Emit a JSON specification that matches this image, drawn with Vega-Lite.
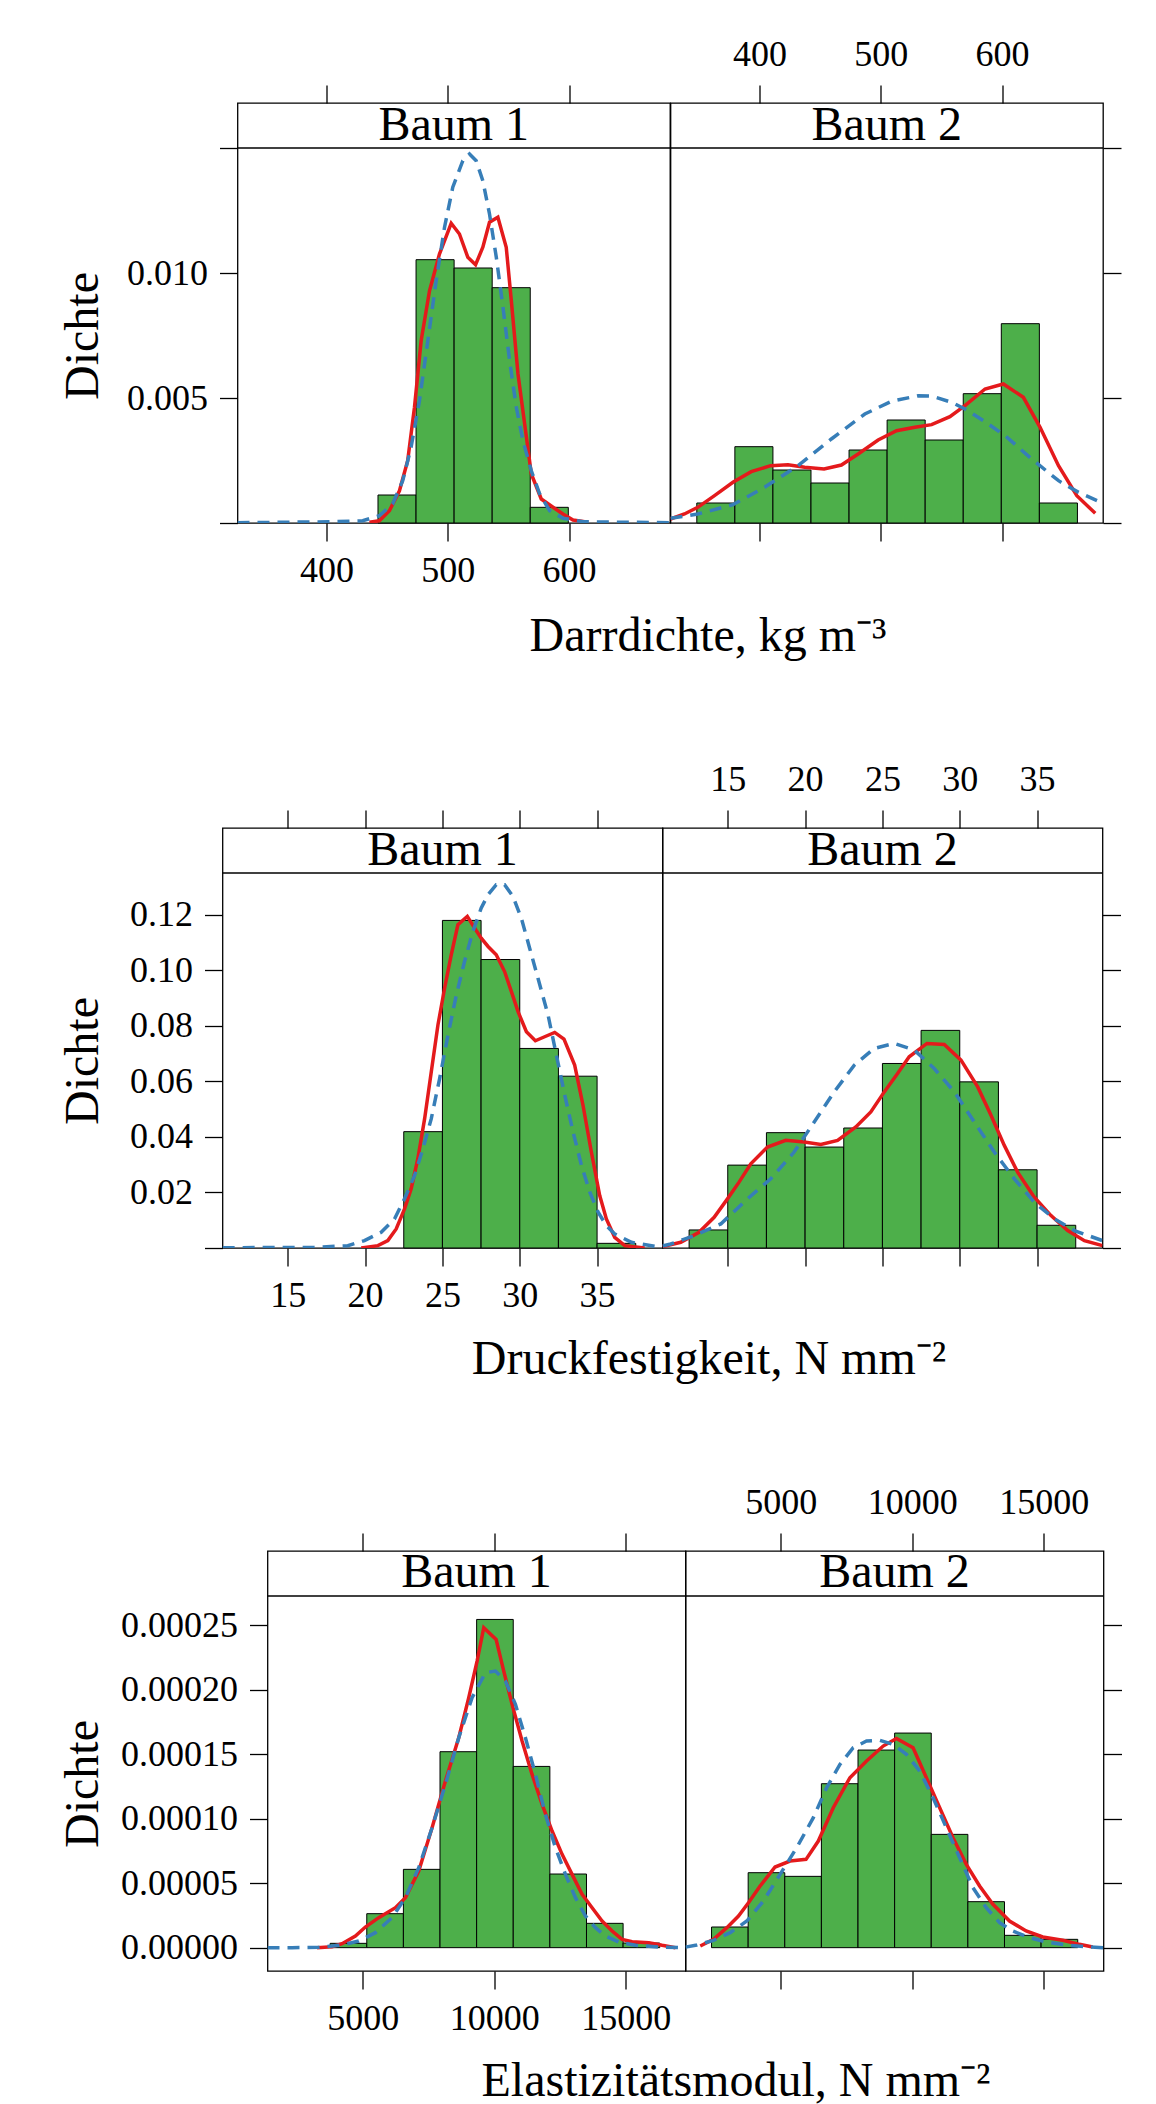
{
"$schema": "https://vega.github.io/schema/vega-lite/v6.json",
"background": "white",
"padding": {"left": 57.5, "top": 35, "right": 0, "bottom": 0},
"columns": 1,
"align": "none",
"spacing": 98,
"config": {
 "view": {"stroke": "black", "strokeWidth": 1.3},
 "axis": {"grid": false, "domain": false, "tickColor": "black", "tickSize": 18, "tickWidth": 1.3, "labelFont": "Liberation Serif", "labelFontSize": 36, "labelColor": "black", "labelPadding": 12, "labelFlush": false, "labelOverlap": false, "titleFont": "Liberation Serif", "titleFontSize": 48, "titleFontWeight": "normal", "titleColor": "black"}
},
"datasets": {
 "bars": [
  {"v": "dd", "tree": "Baum 1", "lo": 442.4, "hi": 473.8, "dens": 0.00112},
  {"v": "dd", "tree": "Baum 1", "lo": 473.8, "hi": 505.2, "dens": 0.010533},
  {"v": "dd", "tree": "Baum 1", "lo": 505.2, "hi": 536.6, "dens": 0.0102},
  {"v": "dd", "tree": "Baum 1", "lo": 536.6, "hi": 568.0, "dens": 0.009413},
  {"v": "dd", "tree": "Baum 1", "lo": 568.0, "hi": 599.4, "dens": 0.000627},
  {"v": "dd", "tree": "Baum 2", "lo": 348.2, "hi": 379.6, "dens": 0.0008},
  {"v": "dd", "tree": "Baum 2", "lo": 379.6, "hi": 411.0, "dens": 0.003053},
  {"v": "dd", "tree": "Baum 2", "lo": 411.0, "hi": 442.4, "dens": 0.00212},
  {"v": "dd", "tree": "Baum 2", "lo": 442.4, "hi": 473.8, "dens": 0.0016},
  {"v": "dd", "tree": "Baum 2", "lo": 473.8, "hi": 505.2, "dens": 0.00292},
  {"v": "dd", "tree": "Baum 2", "lo": 505.2, "hi": 536.6, "dens": 0.00412},
  {"v": "dd", "tree": "Baum 2", "lo": 536.6, "hi": 568.0, "dens": 0.00332},
  {"v": "dd", "tree": "Baum 2", "lo": 568.0, "hi": 599.4, "dens": 0.005173},
  {"v": "dd", "tree": "Baum 2", "lo": 599.4, "hi": 630.8, "dens": 0.007973},
  {"v": "dd", "tree": "Baum 2", "lo": 630.8, "hi": 662.2, "dens": 0.0008},
  {"v": "df", "tree": "Baum 1", "lo": 22.5, "hi": 25.0, "dens": 0.04188},
  {"v": "df", "tree": "Baum 1", "lo": 25.0, "hi": 27.5, "dens": 0.11793},
  {"v": "df", "tree": "Baum 1", "lo": 27.5, "hi": 30.0, "dens": 0.10385},
  {"v": "df", "tree": "Baum 1", "lo": 30.0, "hi": 32.5, "dens": 0.07184},
  {"v": "df", "tree": "Baum 1", "lo": 32.5, "hi": 35.0, "dens": 0.06185},
  {"v": "df", "tree": "Baum 1", "lo": 35.0, "hi": 37.5, "dens": 0.00168},
  {"v": "df", "tree": "Baum 2", "lo": 12.5, "hi": 15.0, "dens": 0.0065},
  {"v": "df", "tree": "Baum 2", "lo": 15.0, "hi": 17.5, "dens": 0.02984},
  {"v": "df", "tree": "Baum 2", "lo": 17.5, "hi": 20.0, "dens": 0.04152},
  {"v": "df", "tree": "Baum 2", "lo": 20.0, "hi": 22.5, "dens": 0.03634},
  {"v": "df", "tree": "Baum 2", "lo": 22.5, "hi": 25.0, "dens": 0.0432},
  {"v": "df", "tree": "Baum 2", "lo": 25.0, "hi": 27.5, "dens": 0.06643},
  {"v": "df", "tree": "Baum 2", "lo": 27.5, "hi": 30.0, "dens": 0.07834},
  {"v": "df", "tree": "Baum 2", "lo": 30.0, "hi": 32.5, "dens": 0.05981},
  {"v": "df", "tree": "Baum 2", "lo": 32.5, "hi": 35.0, "dens": 0.02816},
  {"v": "df", "tree": "Baum 2", "lo": 35.0, "hi": 37.5, "dens": 0.00818},
  {"v": "em", "tree": "Baum 1", "lo": 3762, "hi": 5154, "dens": 0.00000336},
  {"v": "em", "tree": "Baum 1", "lo": 5154, "hi": 6546, "dens": 0.00002637},
  {"v": "em", "tree": "Baum 1", "lo": 6546, "hi": 7938, "dens": 0.00006075},
  {"v": "em", "tree": "Baum 1", "lo": 7938, "hi": 9330, "dens": 0.000152},
  {"v": "em", "tree": "Baum 1", "lo": 9330, "hi": 10722, "dens": 0.0002546},
  {"v": "em", "tree": "Baum 1", "lo": 10722, "hi": 12114, "dens": 0.0001406},
  {"v": "em", "tree": "Baum 1", "lo": 12114, "hi": 13506, "dens": 0.00005713},
  {"v": "em", "tree": "Baum 1", "lo": 13506, "hi": 14898, "dens": 0.00001887},
  {"v": "em", "tree": "Baum 1", "lo": 14898, "hi": 16290, "dens": 0.0000036},
  {"v": "em", "tree": "Baum 2", "lo": 2370, "hi": 3762, "dens": 0.00001603},
  {"v": "em", "tree": "Baum 2", "lo": 3762, "hi": 5154, "dens": 0.00005816},
  {"v": "em", "tree": "Baum 2", "lo": 5154, "hi": 6546, "dens": 0.00005532},
  {"v": "em", "tree": "Baum 2", "lo": 6546, "hi": 7938, "dens": 0.00012718},
  {"v": "em", "tree": "Baum 2", "lo": 7938, "hi": 9330, "dens": 0.00015329},
  {"v": "em", "tree": "Baum 2", "lo": 9330, "hi": 10722, "dens": 0.00016647},
  {"v": "em", "tree": "Baum 2", "lo": 10722, "hi": 12114, "dens": 0.00008789},
  {"v": "em", "tree": "Baum 2", "lo": 12114, "hi": 13506, "dens": 0.00003567},
  {"v": "em", "tree": "Baum 2", "lo": 13506, "hi": 14898, "dens": 0.00000956},
  {"v": "em", "tree": "Baum 2", "lo": 14898, "hi": 16290, "dens": 0.00000646}
 ],
 "curves": [
  {"v":"dd","tree":"Baum 1","kind":"kern","x":435.3,"y":0.00003},
  {"v":"dd","tree":"Baum 1","kind":"kern","x":443.5,"y":0.00009},
  {"v":"dd","tree":"Baum 1","kind":"kern","x":451.8,"y":0.00049},
  {"v":"dd","tree":"Baum 1","kind":"kern","x":460.1,"y":0.00129},
  {"v":"dd","tree":"Baum 1","kind":"kern","x":466.9,"y":0.00249},
  {"v":"dd","tree":"Baum 1","kind":"kern","x":472.5,"y":0.00463},
  {"v":"dd","tree":"Baum 1","kind":"kern","x":478.0,"y":0.00729},
  {"v":"dd","tree":"Baum 1","kind":"kern","x":484.9,"y":0.00929},
  {"v":"dd","tree":"Baum 1","kind":"kern","x":493.1,"y":0.01076},
  {"v":"dd","tree":"Baum 1","kind":"kern","x":502.8,"y":0.01199},
  {"v":"dd","tree":"Baum 1","kind":"kern","x":509.6,"y":0.01156},
  {"v":"dd","tree":"Baum 1","kind":"kern","x":516.5,"y":0.01063},
  {"v":"dd","tree":"Baum 1","kind":"kern","x":522.9,"y":0.01033},
  {"v":"dd","tree":"Baum 1","kind":"kern","x":528.9,"y":0.01103},
  {"v":"dd","tree":"Baum 1","kind":"kern","x":534.4,"y":0.01203},
  {"v":"dd","tree":"Baum 1","kind":"kern","x":541.3,"y":0.01223},
  {"v":"dd","tree":"Baum 1","kind":"kern","x":548.2,"y":0.01103},
  {"v":"dd","tree":"Baum 1","kind":"kern","x":552.4,"y":0.00889},
  {"v":"dd","tree":"Baum 1","kind":"kern","x":557.9,"y":0.00596},
  {"v":"dd","tree":"Baum 1","kind":"kern","x":563.4,"y":0.00396},
  {"v":"dd","tree":"Baum 1","kind":"kern","x":568.9,"y":0.00196},
  {"v":"dd","tree":"Baum 1","kind":"kern","x":577.1,"y":0.00096},
  {"v":"dd","tree":"Baum 1","kind":"kern","x":586.8,"y":0.00063},
  {"v":"dd","tree":"Baum 1","kind":"kern","x":595.0,"y":0.00036},
  {"v":"dd","tree":"Baum 1","kind":"kern","x":603.3,"y":0.00012},
  {"v":"dd","tree":"Baum 1","kind":"kern","x":615.7,"y":0.00003},
  {"v":"dd","tree":"Baum 1","kind":"norm","x":326.5,"y":0.00001},
  {"v":"dd","tree":"Baum 1","kind":"norm","x":402.2,"y":0.00005},
  {"v":"dd","tree":"Baum 1","kind":"norm","x":429.8,"y":0.00009},
  {"v":"dd","tree":"Baum 1","kind":"norm","x":443.5,"y":0.00029},
  {"v":"dd","tree":"Baum 1","kind":"norm","x":454.5,"y":0.00076},
  {"v":"dd","tree":"Baum 1","kind":"norm","x":462.8,"y":0.00169},
  {"v":"dd","tree":"Baum 1","kind":"norm","x":469.7,"y":0.00303},
  {"v":"dd","tree":"Baum 1","kind":"norm","x":476.6,"y":0.00489},
  {"v":"dd","tree":"Baum 1","kind":"norm","x":483.5,"y":0.00729},
  {"v":"dd","tree":"Baum 1","kind":"norm","x":490.4,"y":0.00969},
  {"v":"dd","tree":"Baum 1","kind":"norm","x":497.3,"y":0.01183},
  {"v":"dd","tree":"Baum 1","kind":"norm","x":504.1,"y":0.01343},
  {"v":"dd","tree":"Baum 1","kind":"norm","x":512.4,"y":0.01449},
  {"v":"dd","tree":"Baum 1","kind":"norm","x":517.9,"y":0.01476},
  {"v":"dd","tree":"Baum 1","kind":"norm","x":523.4,"y":0.01449},
  {"v":"dd","tree":"Baum 1","kind":"norm","x":528.9,"y":0.01369},
  {"v":"dd","tree":"Baum 1","kind":"norm","x":534.4,"y":0.01236},
  {"v":"dd","tree":"Baum 1","kind":"norm","x":540.0,"y":0.01063},
  {"v":"dd","tree":"Baum 1","kind":"norm","x":545.5,"y":0.00863},
  {"v":"dd","tree":"Baum 1","kind":"norm","x":551.0,"y":0.00649},
  {"v":"dd","tree":"Baum 1","kind":"norm","x":556.5,"y":0.00463},
  {"v":"dd","tree":"Baum 1","kind":"norm","x":562.0,"y":0.00329},
  {"v":"dd","tree":"Baum 1","kind":"norm","x":568.9,"y":0.00209},
  {"v":"dd","tree":"Baum 1","kind":"norm","x":575.8,"y":0.00116},
  {"v":"dd","tree":"Baum 1","kind":"norm","x":584.0,"y":0.00049},
  {"v":"dd","tree":"Baum 1","kind":"norm","x":595.0,"y":0.00019},
  {"v":"dd","tree":"Baum 1","kind":"norm","x":611.6,"y":0.00005},
  {"v":"dd","tree":"Baum 1","kind":"norm","x":683.3,"y":0.00001},
  {"v":"dd","tree":"Baum 2","kind":"kern","x":326.5,"y":0.00016},
  {"v":"dd","tree":"Baum 2","kind":"kern","x":338.0,"y":0.00036},
  {"v":"dd","tree":"Baum 2","kind":"kern","x":349.0,"y":0.000627},
  {"v":"dd","tree":"Baum 2","kind":"kern","x":362.8,"y":0.001093},
  {"v":"dd","tree":"Baum 2","kind":"kern","x":378.0,"y":0.001627},
  {"v":"dd","tree":"Baum 2","kind":"kern","x":393.1,"y":0.002053},
  {"v":"dd","tree":"Baum 2","kind":"kern","x":409.1,"y":0.002293},
  {"v":"dd","tree":"Baum 2","kind":"kern","x":423.4,"y":0.002333},
  {"v":"dd","tree":"Baum 2","kind":"kern","x":437.2,"y":0.002227},
  {"v":"dd","tree":"Baum 2","kind":"kern","x":453.2,"y":0.00216},
  {"v":"dd","tree":"Baum 2","kind":"kern","x":467.5,"y":0.00232},
  {"v":"dd","tree":"Baum 2","kind":"kern","x":481.3,"y":0.00276},
  {"v":"dd","tree":"Baum 2","kind":"kern","x":497.8,"y":0.00332},
  {"v":"dd","tree":"Baum 2","kind":"kern","x":513.0,"y":0.003693},
  {"v":"dd","tree":"Baum 2","kind":"kern","x":528.1,"y":0.003827},
  {"v":"dd","tree":"Baum 2","kind":"kern","x":541.9,"y":0.003933},
  {"v":"dd","tree":"Baum 2","kind":"kern","x":557.0,"y":0.004253},
  {"v":"dd","tree":"Baum 2","kind":"kern","x":569.4,"y":0.004693},
  {"v":"dd","tree":"Baum 2","kind":"kern","x":586.0,"y":0.00536},
  {"v":"dd","tree":"Baum 2","kind":"kern","x":601.1,"y":0.00556},
  {"v":"dd","tree":"Baum 2","kind":"kern","x":617.6,"y":0.005027},
  {"v":"dd","tree":"Baum 2","kind":"kern","x":631.4,"y":0.003827},
  {"v":"dd","tree":"Baum 2","kind":"kern","x":646.6,"y":0.002293},
  {"v":"dd","tree":"Baum 2","kind":"kern","x":661.7,"y":0.001093},
  {"v":"dd","tree":"Baum 2","kind":"kern","x":676.9,"y":0.000387},
  {"v":"dd","tree":"Baum 2","kind":"norm","x":326.5,"y":0.000187},
  {"v":"dd","tree":"Baum 2","kind":"norm","x":349.0,"y":0.00036},
  {"v":"dd","tree":"Baum 2","kind":"norm","x":378.0,"y":0.000733},
  {"v":"dd","tree":"Baum 2","kind":"norm","x":404.1,"y":0.001427},
  {"v":"dd","tree":"Baum 2","kind":"norm","x":431.7,"y":0.002293},
  {"v":"dd","tree":"Baum 2","kind":"norm","x":459.2,"y":0.00336},
  {"v":"dd","tree":"Baum 2","kind":"norm","x":486.8,"y":0.00436},
  {"v":"dd","tree":"Baum 2","kind":"norm","x":508.8,"y":0.004867},
  {"v":"dd","tree":"Baum 2","kind":"norm","x":530.9,"y":0.005093},
  {"v":"dd","tree":"Baum 2","kind":"norm","x":541.9,"y":0.00508},
  {"v":"dd","tree":"Baum 2","kind":"norm","x":558.4,"y":0.004827},
  {"v":"dd","tree":"Baum 2","kind":"norm","x":569.4,"y":0.00456},
  {"v":"dd","tree":"Baum 2","kind":"norm","x":586.0,"y":0.004053},
  {"v":"dd","tree":"Baum 2","kind":"norm","x":602.5,"y":0.003493},
  {"v":"dd","tree":"Baum 2","kind":"norm","x":624.5,"y":0.00256},
  {"v":"dd","tree":"Baum 2","kind":"norm","x":646.6,"y":0.001693},
  {"v":"dd","tree":"Baum 2","kind":"norm","x":663.1,"y":0.001227},
  {"v":"dd","tree":"Baum 2","kind":"norm","x":679.6,"y":0.000867},
  {"v":"dd","tree":"Baum 2","kind":"norm","x":683.3,"y":0.0008},
  {"v":"df","tree":"Baum 1","kind":"kern","x":19.75,"y":0},
  {"v":"df","tree":"Baum 1","kind":"kern","x":20.83,"y":0.00084},
  {"v":"df","tree":"Baum 1","kind":"kern","x":21.47,"y":0.00265},
  {"v":"df","tree":"Baum 1","kind":"kern","x":22.01,"y":0.00686},
  {"v":"df","tree":"Baum 1","kind":"kern","x":22.55,"y":0.01408},
  {"v":"df","tree":"Baum 1","kind":"kern","x":22.98,"y":0.0213},
  {"v":"df","tree":"Baum 1","kind":"kern","x":23.41,"y":0.03213},
  {"v":"df","tree":"Baum 1","kind":"kern","x":23.85,"y":0.04657},
  {"v":"df","tree":"Baum 1","kind":"kern","x":24.28,"y":0.06342},
  {"v":"df","tree":"Baum 1","kind":"kern","x":24.71,"y":0.08027},
  {"v":"df","tree":"Baum 1","kind":"kern","x":25.14,"y":0.0935},
  {"v":"df","tree":"Baum 1","kind":"kern","x":25.57,"y":0.10554},
  {"v":"df","tree":"Baum 1","kind":"kern","x":26.0,"y":0.11637},
  {"v":"df","tree":"Baum 1","kind":"kern","x":26.61,"y":0.11938},
  {"v":"df","tree":"Baum 1","kind":"kern","x":27.08,"y":0.11517},
  {"v":"df","tree":"Baum 1","kind":"kern","x":27.51,"y":0.11156},
  {"v":"df","tree":"Baum 1","kind":"kern","x":27.95,"y":0.10855},
  {"v":"df","tree":"Baum 1","kind":"kern","x":28.48,"y":0.10554},
  {"v":"df","tree":"Baum 1","kind":"kern","x":29.02,"y":0.09952},
  {"v":"df","tree":"Baum 1","kind":"kern","x":29.46,"y":0.0923},
  {"v":"df","tree":"Baum 1","kind":"kern","x":29.89,"y":0.08508},
  {"v":"df","tree":"Baum 1","kind":"kern","x":30.43,"y":0.07786},
  {"v":"df","tree":"Baum 1","kind":"kern","x":31.01,"y":0.07461},
  {"v":"df","tree":"Baum 1","kind":"kern","x":31.61,"y":0.07605},
  {"v":"df","tree":"Baum 1","kind":"kern","x":32.26,"y":0.07762},
  {"v":"df","tree":"Baum 1","kind":"kern","x":32.86,"y":0.07521},
  {"v":"df","tree":"Baum 1","kind":"kern","x":33.55,"y":0.06583},
  {"v":"df","tree":"Baum 1","kind":"kern","x":34.09,"y":0.05139},
  {"v":"df","tree":"Baum 1","kind":"kern","x":34.63,"y":0.03454},
  {"v":"df","tree":"Baum 1","kind":"kern","x":35.17,"y":0.01889},
  {"v":"df","tree":"Baum 1","kind":"kern","x":35.6,"y":0.01047},
  {"v":"df","tree":"Baum 1","kind":"kern","x":36.14,"y":0.00385},
  {"v":"df","tree":"Baum 1","kind":"kern","x":36.79,"y":0.00084},
  {"v":"df","tree":"Baum 1","kind":"kern","x":38.08,"y":0},
  {"v":"df","tree":"Baum 1","kind":"norm","x":10.79,"y":0.0001},
  {"v":"df","tree":"Baum 1","kind":"norm","x":16.73,"y":0.00024},
  {"v":"df","tree":"Baum 1","kind":"norm","x":18.88,"y":0.00084},
  {"v":"df","tree":"Baum 1","kind":"norm","x":19.96,"y":0.00265},
  {"v":"df","tree":"Baum 1","kind":"norm","x":21.04,"y":0.00566},
  {"v":"df","tree":"Baum 1","kind":"norm","x":21.9,"y":0.01047},
  {"v":"df","tree":"Baum 1","kind":"norm","x":22.55,"y":0.01769},
  {"v":"df","tree":"Baum 1","kind":"norm","x":23.2,"y":0.02611},
  {"v":"df","tree":"Baum 1","kind":"norm","x":23.74,"y":0.03574},
  {"v":"df","tree":"Baum 1","kind":"norm","x":24.28,"y":0.04657},
  {"v":"df","tree":"Baum 1","kind":"norm","x":24.82,"y":0.06101},
  {"v":"df","tree":"Baum 1","kind":"norm","x":25.36,"y":0.07666},
  {"v":"df","tree":"Baum 1","kind":"norm","x":25.9,"y":0.0911},
  {"v":"df","tree":"Baum 1","kind":"norm","x":26.43,"y":0.10313},
  {"v":"df","tree":"Baum 1","kind":"norm","x":26.97,"y":0.114},
  {"v":"df","tree":"Baum 1","kind":"norm","x":27.51,"y":0.12239},
  {"v":"df","tree":"Baum 1","kind":"norm","x":27.95,"y":0.1272},
  {"v":"df","tree":"Baum 1","kind":"norm","x":28.48,"y":0.13081},
  {"v":"df","tree":"Baum 1","kind":"norm","x":29.02,"y":0.13081},
  {"v":"df","tree":"Baum 1","kind":"norm","x":29.56,"y":0.1266},
  {"v":"df","tree":"Baum 1","kind":"norm","x":30.1,"y":0.11878},
  {"v":"df","tree":"Baum 1","kind":"norm","x":30.64,"y":0.10794},
  {"v":"df","tree":"Baum 1","kind":"norm","x":31.18,"y":0.09711},
  {"v":"df","tree":"Baum 1","kind":"norm","x":31.83,"y":0.08388},
  {"v":"df","tree":"Baum 1","kind":"norm","x":32.37,"y":0.06944},
  {"v":"df","tree":"Baum 1","kind":"norm","x":32.91,"y":0.055},
  {"v":"df","tree":"Baum 1","kind":"norm","x":33.45,"y":0.04176},
  {"v":"df","tree":"Baum 1","kind":"norm","x":33.99,"y":0.02972},
  {"v":"df","tree":"Baum 1","kind":"norm","x":34.53,"y":0.0201},
  {"v":"df","tree":"Baum 1","kind":"norm","x":35.07,"y":0.01288},
  {"v":"df","tree":"Baum 1","kind":"norm","x":35.6,"y":0.00806},
  {"v":"df","tree":"Baum 1","kind":"norm","x":36.14,"y":0.00505},
  {"v":"df","tree":"Baum 1","kind":"norm","x":37.22,"y":0.00205},
  {"v":"df","tree":"Baum 1","kind":"norm","x":39.16,"y":0.00024},
  {"v":"df","tree":"Baum 2","kind":"kern","x":10.78,"y":0.00048},
  {"v":"df","tree":"Baum 2","kind":"kern","x":11.96,"y":0.00205},
  {"v":"df","tree":"Baum 2","kind":"kern","x":13.14,"y":0.00566},
  {"v":"df","tree":"Baum 2","kind":"kern","x":14.12,"y":0.01107},
  {"v":"df","tree":"Baum 2","kind":"kern","x":14.98,"y":0.01769},
  {"v":"df","tree":"Baum 2","kind":"kern","x":15.73,"y":0.02371},
  {"v":"df","tree":"Baum 2","kind":"kern","x":16.49,"y":0.03033},
  {"v":"df","tree":"Baum 2","kind":"kern","x":17.57,"y":0.03634},
  {"v":"df","tree":"Baum 2","kind":"kern","x":18.75,"y":0.03875},
  {"v":"df","tree":"Baum 2","kind":"kern","x":19.94,"y":0.03815},
  {"v":"df","tree":"Baum 2","kind":"kern","x":21.02,"y":0.03731},
  {"v":"df","tree":"Baum 2","kind":"kern","x":22.1,"y":0.03875},
  {"v":"df","tree":"Baum 2","kind":"kern","x":23.28,"y":0.04356},
  {"v":"df","tree":"Baum 2","kind":"kern","x":24.25,"y":0.04898},
  {"v":"df","tree":"Baum 2","kind":"kern","x":25.12,"y":0.0562},
  {"v":"df","tree":"Baum 2","kind":"kern","x":25.98,"y":0.06282},
  {"v":"df","tree":"Baum 2","kind":"kern","x":26.73,"y":0.06883},
  {"v":"df","tree":"Baum 2","kind":"kern","x":27.88,"y":0.07365},
  {"v":"df","tree":"Baum 2","kind":"kern","x":29.0,"y":0.07329},
  {"v":"df","tree":"Baum 2","kind":"kern","x":30.08,"y":0.06763},
  {"v":"df","tree":"Baum 2","kind":"kern","x":31.16,"y":0.058},
  {"v":"df","tree":"Baum 2","kind":"kern","x":32.02,"y":0.04777},
  {"v":"df","tree":"Baum 2","kind":"kern","x":32.88,"y":0.03694},
  {"v":"df","tree":"Baum 2","kind":"kern","x":33.74,"y":0.02732},
  {"v":"df","tree":"Baum 2","kind":"kern","x":34.82,"y":0.01829},
  {"v":"df","tree":"Baum 2","kind":"kern","x":35.9,"y":0.01167},
  {"v":"df","tree":"Baum 2","kind":"kern","x":36.98,"y":0.00626},
  {"v":"df","tree":"Baum 2","kind":"kern","x":38.06,"y":0.00265},
  {"v":"df","tree":"Baum 2","kind":"kern","x":39.23,"y":0.00084},
  {"v":"df","tree":"Baum 2","kind":"norm","x":10.78,"y":0.00072},
  {"v":"df","tree":"Baum 2","kind":"norm","x":11.31,"y":0.00144},
  {"v":"df","tree":"Baum 2","kind":"norm","x":12.82,"y":0.00445},
  {"v":"df","tree":"Baum 2","kind":"norm","x":14.55,"y":0.00866},
  {"v":"df","tree":"Baum 2","kind":"norm","x":16.27,"y":0.01769},
  {"v":"df","tree":"Baum 2","kind":"norm","x":17.78,"y":0.02491},
  {"v":"df","tree":"Baum 2","kind":"norm","x":19.29,"y":0.03454},
  {"v":"df","tree":"Baum 2","kind":"norm","x":20.59,"y":0.04537},
  {"v":"df","tree":"Baum 2","kind":"norm","x":21.88,"y":0.0562},
  {"v":"df","tree":"Baum 2","kind":"norm","x":23.18,"y":0.06583},
  {"v":"df","tree":"Baum 2","kind":"norm","x":24.47,"y":0.07184},
  {"v":"df","tree":"Baum 2","kind":"norm","x":25.76,"y":0.07365},
  {"v":"df","tree":"Baum 2","kind":"norm","x":27.06,"y":0.07124},
  {"v":"df","tree":"Baum 2","kind":"norm","x":28.35,"y":0.06462},
  {"v":"df","tree":"Baum 2","kind":"norm","x":29.65,"y":0.0562},
  {"v":"df","tree":"Baum 2","kind":"norm","x":30.94,"y":0.04537},
  {"v":"df","tree":"Baum 2","kind":"norm","x":32.23,"y":0.03454},
  {"v":"df","tree":"Baum 2","kind":"norm","x":33.53,"y":0.02491},
  {"v":"df","tree":"Baum 2","kind":"norm","x":34.82,"y":0.01649},
  {"v":"df","tree":"Baum 2","kind":"norm","x":36.12,"y":0.01047},
  {"v":"df","tree":"Baum 2","kind":"norm","x":37.41,"y":0.00626},
  {"v":"df","tree":"Baum 2","kind":"norm","x":39.23,"y":0.00265},
  {"v":"em","tree":"Baum 1","kind":"kern","x":3264,"y":0},
  {"v":"em","tree":"Baum 1","kind":"kern","x":3834,"y":0.00000078},
  {"v":"em","tree":"Baum 1","kind":"kern","x":4214,"y":0.0000031},
  {"v":"em","tree":"Baum 1","kind":"kern","x":4721,"y":0.00000905},
  {"v":"em","tree":"Baum 1","kind":"kern","x":5101,"y":0.00001603},
  {"v":"em","tree":"Baum 1","kind":"kern","x":5608,"y":0.00002327},
  {"v":"em","tree":"Baum 1","kind":"kern","x":6242,"y":0.00003102},
  {"v":"em","tree":"Baum 1","kind":"kern","x":6622,"y":0.00003878},
  {"v":"em","tree":"Baum 1","kind":"kern","x":7129,"y":0.00005946},
  {"v":"em","tree":"Baum 1","kind":"kern","x":7636,"y":0.00009306},
  {"v":"em","tree":"Baum 1","kind":"kern","x":8143,"y":0.00012925},
  {"v":"em","tree":"Baum 1","kind":"kern","x":8650,"y":0.00016286},
  {"v":"em","tree":"Baum 1","kind":"kern","x":9030,"y":0.00019388},
  {"v":"em","tree":"Baum 1","kind":"kern","x":9347,"y":0.00022231},
  {"v":"em","tree":"Baum 1","kind":"kern","x":9601,"y":0.00024816},
  {"v":"em","tree":"Baum 1","kind":"kern","x":10070,"y":0.00023911},
  {"v":"em","tree":"Baum 1","kind":"kern","x":10361,"y":0.00021456},
  {"v":"em","tree":"Baum 1","kind":"kern","x":10678,"y":0.00018871},
  {"v":"em","tree":"Baum 1","kind":"kern","x":11058,"y":0.00016027},
  {"v":"em","tree":"Baum 1","kind":"kern","x":11438,"y":0.00013442},
  {"v":"em","tree":"Baum 1","kind":"kern","x":11819,"y":0.00011116},
  {"v":"em","tree":"Baum 1","kind":"kern","x":12199,"y":0.00009048},
  {"v":"em","tree":"Baum 1","kind":"kern","x":12579,"y":0.00007238},
  {"v":"em","tree":"Baum 1","kind":"kern","x":12959,"y":0.00005687},
  {"v":"em","tree":"Baum 1","kind":"kern","x":13339,"y":0.00004136},
  {"v":"em","tree":"Baum 1","kind":"kern","x":13720,"y":0.00003102},
  {"v":"em","tree":"Baum 1","kind":"kern","x":14100,"y":0.00002068},
  {"v":"em","tree":"Baum 1","kind":"kern","x":14480,"y":0.00001293},
  {"v":"em","tree":"Baum 1","kind":"kern","x":14860,"y":0.00000646},
  {"v":"em","tree":"Baum 1","kind":"kern","x":15241,"y":0.00000465},
  {"v":"em","tree":"Baum 1","kind":"kern","x":15874,"y":0.00000388},
  {"v":"em","tree":"Baum 1","kind":"kern","x":16381,"y":0.00000181},
  {"v":"em","tree":"Baum 1","kind":"kern","x":16888,"y":0},
  {"v":"em","tree":"Baum 1","kind":"norm","x":1380,"y":0},
  {"v":"em","tree":"Baum 1","kind":"norm","x":2313,"y":0},
  {"v":"em","tree":"Baum 1","kind":"norm","x":3327,"y":0.00000026},
  {"v":"em","tree":"Baum 1","kind":"norm","x":4214,"y":0.00000207},
  {"v":"em","tree":"Baum 1","kind":"norm","x":4848,"y":0.00000517},
  {"v":"em","tree":"Baum 1","kind":"norm","x":5482,"y":0.00001163},
  {"v":"em","tree":"Baum 1","kind":"norm","x":6115,"y":0.00002327},
  {"v":"em","tree":"Baum 1","kind":"norm","x":6622,"y":0.00003878},
  {"v":"em","tree":"Baum 1","kind":"norm","x":7129,"y":0.00006204},
  {"v":"em","tree":"Baum 1","kind":"norm","x":7636,"y":0.00009306},
  {"v":"em","tree":"Baum 1","kind":"norm","x":8143,"y":0.00012667},
  {"v":"em","tree":"Baum 1","kind":"norm","x":8650,"y":0.00016286},
  {"v":"em","tree":"Baum 1","kind":"norm","x":9157,"y":0.00019388},
  {"v":"em","tree":"Baum 1","kind":"norm","x":9664,"y":0.00021326},
  {"v":"em","tree":"Baum 1","kind":"norm","x":10044,"y":0.00021456},
  {"v":"em","tree":"Baum 1","kind":"norm","x":10424,"y":0.0002068},
  {"v":"em","tree":"Baum 1","kind":"norm","x":10805,"y":0.00018871},
  {"v":"em","tree":"Baum 1","kind":"norm","x":11185,"y":0.00016286},
  {"v":"em","tree":"Baum 1","kind":"norm","x":11565,"y":0.00013442},
  {"v":"em","tree":"Baum 1","kind":"norm","x":11945,"y":0.0001034},
  {"v":"em","tree":"Baum 1","kind":"norm","x":12326,"y":0.00007755},
  {"v":"em","tree":"Baum 1","kind":"norm","x":12706,"y":0.00005687},
  {"v":"em","tree":"Baum 1","kind":"norm","x":13086,"y":0.00003878},
  {"v":"em","tree":"Baum 1","kind":"norm","x":13466,"y":0.00002456},
  {"v":"em","tree":"Baum 1","kind":"norm","x":13847,"y":0.00001551},
  {"v":"em","tree":"Baum 1","kind":"norm","x":14227,"y":0.00000905},
  {"v":"em","tree":"Baum 1","kind":"norm","x":14734,"y":0.00000439},
  {"v":"em","tree":"Baum 1","kind":"norm","x":15368,"y":0.00000181},
  {"v":"em","tree":"Baum 1","kind":"norm","x":16255,"y":0.00000052},
  {"v":"em","tree":"Baum 1","kind":"norm","x":17270,"y":0},
  {"v":"em","tree":"Baum 2","kind":"kern","x":1941,"y":0.00000129},
  {"v":"em","tree":"Baum 2","kind":"kern","x":2446,"y":0.00000646},
  {"v":"em","tree":"Baum 2","kind":"kern","x":2952,"y":0.00001551},
  {"v":"em","tree":"Baum 2","kind":"kern","x":3394,"y":0.00002456},
  {"v":"em","tree":"Baum 2","kind":"kern","x":3774,"y":0.0000349},
  {"v":"em","tree":"Baum 2","kind":"kern","x":4216,"y":0.00004782},
  {"v":"em","tree":"Baum 2","kind":"kern","x":4785,"y":0.00006256},
  {"v":"em","tree":"Baum 2","kind":"kern","x":5354,"y":0.00006721},
  {"v":"em","tree":"Baum 2","kind":"kern","x":5961,"y":0.0000685},
  {"v":"em","tree":"Baum 2","kind":"kern","x":6429,"y":0.00008272},
  {"v":"em","tree":"Baum 2","kind":"kern","x":6997,"y":0.00010857},
  {"v":"em","tree":"Baum 2","kind":"kern","x":7630,"y":0.00013184},
  {"v":"em","tree":"Baum 2","kind":"kern","x":8262,"y":0.00014476},
  {"v":"em","tree":"Baum 2","kind":"kern","x":8894,"y":0.00015639},
  {"v":"em","tree":"Baum 2","kind":"kern","x":9399,"y":0.00016234},
  {"v":"em","tree":"Baum 2","kind":"kern","x":10031,"y":0.0001551},
  {"v":"em","tree":"Baum 2","kind":"kern","x":10537,"y":0.00013184},
  {"v":"em","tree":"Baum 2","kind":"kern","x":11043,"y":0.00010857},
  {"v":"em","tree":"Baum 2","kind":"kern","x":11549,"y":0.00008531},
  {"v":"em","tree":"Baum 2","kind":"kern","x":12054,"y":0.00006463},
  {"v":"em","tree":"Baum 2","kind":"kern","x":12560,"y":0.00004782},
  {"v":"em","tree":"Baum 2","kind":"kern","x":13066,"y":0.00003361},
  {"v":"em","tree":"Baum 2","kind":"kern","x":13698,"y":0.00002068},
  {"v":"em","tree":"Baum 2","kind":"kern","x":14330,"y":0.00001293},
  {"v":"em","tree":"Baum 2","kind":"kern","x":14962,"y":0.00000827},
  {"v":"em","tree":"Baum 2","kind":"kern","x":15721,"y":0.00000569},
  {"v":"em","tree":"Baum 2","kind":"kern","x":16353,"y":0.00000259},
  {"v":"em","tree":"Baum 2","kind":"kern","x":16858,"y":0.00000052},
  {"v":"em","tree":"Baum 2","kind":"norm","x":1380,"y":0.0000004},
  {"v":"em","tree":"Baum 2","kind":"norm","x":1814,"y":0.00000207},
  {"v":"em","tree":"Baum 2","kind":"norm","x":2446,"y":0.00000569},
  {"v":"em","tree":"Baum 2","kind":"norm","x":3078,"y":0.00001163},
  {"v":"em","tree":"Baum 2","kind":"norm","x":3711,"y":0.00002068},
  {"v":"em","tree":"Baum 2","kind":"norm","x":4343,"y":0.00003619},
  {"v":"em","tree":"Baum 2","kind":"norm","x":4975,"y":0.00005687},
  {"v":"em","tree":"Baum 2","kind":"norm","x":5607,"y":0.00007755},
  {"v":"em","tree":"Baum 2","kind":"norm","x":6239,"y":0.00010082},
  {"v":"em","tree":"Baum 2","kind":"norm","x":6745,"y":0.00012408},
  {"v":"em","tree":"Baum 2","kind":"norm","x":7250,"y":0.00014218},
  {"v":"em","tree":"Baum 2","kind":"norm","x":7756,"y":0.0001551},
  {"v":"em","tree":"Baum 2","kind":"norm","x":8262,"y":0.00016027},
  {"v":"em","tree":"Baum 2","kind":"norm","x":8767,"y":0.00016079},
  {"v":"em","tree":"Baum 2","kind":"norm","x":9273,"y":0.00015769},
  {"v":"em","tree":"Baum 2","kind":"norm","x":9779,"y":0.00014993},
  {"v":"em","tree":"Baum 2","kind":"norm","x":10284,"y":0.00013701},
  {"v":"em","tree":"Baum 2","kind":"norm","x":10790,"y":0.00011633},
  {"v":"em","tree":"Baum 2","kind":"norm","x":11296,"y":0.00009306},
  {"v":"em","tree":"Baum 2","kind":"norm","x":11802,"y":0.0000698},
  {"v":"em","tree":"Baum 2","kind":"norm","x":12307,"y":0.00004653},
  {"v":"em","tree":"Baum 2","kind":"norm","x":12813,"y":0.00003102},
  {"v":"em","tree":"Baum 2","kind":"norm","x":13319,"y":0.00001939},
  {"v":"em","tree":"Baum 2","kind":"norm","x":13824,"y":0.00001293},
  {"v":"em","tree":"Baum 2","kind":"norm","x":14456,"y":0.00000776},
  {"v":"em","tree":"Baum 2","kind":"norm","x":15088,"y":0.00000439},
  {"v":"em","tree":"Baum 2","kind":"norm","x":15847,"y":0.00000207},
  {"v":"em","tree":"Baum 2","kind":"norm","x":16605,"y":0.00000078},
  {"v":"em","tree":"Baum 2","kind":"norm","x":17270,"y":0}
 ]
},
"concat": [
 {"hconcat": [
  {"width": 25, "height": 420, "view": {"stroke": null}, "data": {"values": [{}]}, "mark": {"type": "text", "text": ""}, "encoding": {}},
  {"width": 432.5, "height": 420,
   "layer": [
    {"data": {"name": "bars"}, "transform": [{"filter": "datum.v == 'dd' && datum.tree == 'Baum 1'"}],
     "mark": {"type": "rect", "fill": "#4DAF4A", "stroke": "black", "strokeWidth": 1},
     "encoding": {
      "x": {"field": "lo", "type": "quantitative", "scale": {"domain": [326.5, 683.3], "nice": false, "zero": false},
            "axis": {"orient": "bottom", "values": [400, 500, 600], "format": "d", "title": "Darrdichte, kg m⁻³", "titleX": 470, "titleY": 127.7, "titleBaseline": "alphabetic", "titleAlign": "center"}},
      "x2": {"field": "hi"},
      "y": {"field": "dens", "type": "quantitative", "scale": {"domain": [0, 0.0168], "nice": false, "zero": false},
            "axis": {"orient": "left", "values": [0, 0.005, 0.01, 0.015], "labelExpr": "datum.value < 0.001 || datum.value > 0.0149 ? '' : format(datum.value, '.3f')", "title": "Dichte", "titleX": -140.4, "titleY": 232.5, "titleBaseline": "alphabetic", "titleAngle": 270, "titleAlign": "center"}},
      "y2": {"datum": 0}
     }},
    {"data": {"name": "curves"}, "transform": [{"filter": "datum.v == 'dd' && datum.tree == 'Baum 1' && datum.kind == 'kern'"}],
     "mark": {"type": "line", "color": "#E41A1C", "strokeWidth": 3.5, "clip": true},
     "encoding": {"x": {"field": "x", "type": "quantitative", "axis": {"orient": "top", "values": [400, 500, 600], "labels": false, "title": null}},
                  "y": {"field": "y", "type": "quantitative", "axis": null}}},
    {"data": {"name": "curves"}, "transform": [{"filter": "datum.v == 'dd' && datum.tree == 'Baum 1' && datum.kind == 'norm'"}],
     "mark": {"type": "line", "color": "#377EB8", "strokeWidth": 3.5, "strokeDash": [12, 8], "clip": true},
     "encoding": {"x": {"field": "x", "type": "quantitative", "axis": null},
                  "y": {"field": "y", "type": "quantitative", "axis": null}}},
    {"data": {"values": [{}]}, "mark": {"type": "rule", "color": "black", "strokeWidth": 1.3},
     "encoding": {"y": {"datum": 0.015, "axis": null}}},
    {"data": {"values": [{}]}, "mark": {"type": "text", "font": "Liberation Serif", "fontSize": 48, "baseline": "middle", "color": "black"},
     "encoding": {"y": {"datum": 0.0159, "axis": null}, "text": {"value": "Baum 1"}}}
   ],
   "resolve": {"axis": {"x": "independent", "y": "independent"}}
  },
  {"width": 432.5, "height": 420,
   "layer": [
    {"data": {"name": "bars"}, "transform": [{"filter": "datum.v == 'dd' && datum.tree == 'Baum 2'"}],
     "mark": {"type": "rect", "fill": "#4DAF4A", "stroke": "black", "strokeWidth": 1},
     "encoding": {
      "x": {"field": "lo", "type": "quantitative", "scale": {"domain": [326.5, 683.3], "nice": false, "zero": false},
            "axis": {"orient": "bottom", "values": [400, 500, 600], "labels": false, "title": null}},
      "x2": {"field": "hi"},
      "y": {"field": "dens", "type": "quantitative", "scale": {"domain": [0, 0.0168], "nice": false, "zero": false},
            "axis": {"orient": "right", "values": [0, 0.005, 0.01, 0.015], "labels": false, "title": null}},
      "y2": {"datum": 0}
     }},
    {"data": {"name": "curves"}, "transform": [{"filter": "datum.v == 'dd' && datum.tree == 'Baum 2' && datum.kind == 'kern'"}],
     "mark": {"type": "line", "color": "#E41A1C", "strokeWidth": 3.5, "clip": true},
     "encoding": {"x": {"field": "x", "type": "quantitative", "axis": {"orient": "top", "values": [400, 500, 600], "format": "d", "title": null}},
                  "y": {"field": "y", "type": "quantitative", "axis": null}}},
    {"data": {"name": "curves"}, "transform": [{"filter": "datum.v == 'dd' && datum.tree == 'Baum 2' && datum.kind == 'norm'"}],
     "mark": {"type": "line", "color": "#377EB8", "strokeWidth": 3.5, "strokeDash": [12, 8], "clip": true},
     "encoding": {"x": {"field": "x", "type": "quantitative", "axis": null},
                  "y": {"field": "y", "type": "quantitative", "axis": null}}},
    {"data": {"values": [{}]}, "mark": {"type": "rule", "color": "black", "strokeWidth": 1.3},
     "encoding": {"y": {"datum": 0.015, "axis": null}}},
    {"data": {"values": [{}]}, "mark": {"type": "text", "font": "Liberation Serif", "fontSize": 48, "baseline": "middle", "color": "black"},
     "encoding": {"y": {"datum": 0.0159, "axis": null}, "text": {"value": "Baum 2"}}}
   ],
   "resolve": {"axis": {"x": "independent", "y": "independent"}}
  }
 ], "spacing": 0, "bounds": "flush"},
 {"hconcat": [
  {"width": 10, "height": 420, "view": {"stroke": null}, "data": {"values": [{}]}, "mark": {"type": "text", "text": ""}, "encoding": {}},
  {"width": 440, "height": 420,
   "layer": [
    {"data": {"name": "bars"}, "transform": [{"filter": "datum.v == 'df' && datum.tree == 'Baum 1'"}],
     "mark": {"type": "rect", "fill": "#4DAF4A", "stroke": "black", "strokeWidth": 1},
     "encoding": {
      "x": {"field": "lo", "type": "quantitative", "scale": {"domain": [10.78, 39.23], "nice": false, "zero": false},
            "axis": {"orient": "bottom", "values": [15, 20, 25, 30, 35], "format": "d", "title": "Druckfestigkeit, N mm⁻²", "titleX": 486, "titleY": 125.7, "titleBaseline": "alphabetic", "titleAlign": "center"}},
      "x2": {"field": "hi"},
      "y": {"field": "dens", "type": "quantitative", "scale": {"domain": [0, 0.1512], "nice": false, "zero": false},
            "axis": {"orient": "left", "values": [0, 0.02, 0.04, 0.06, 0.08, 0.1, 0.12], "labelExpr": "datum.value < 0.001 ? '' : format(datum.value, '.2f')", "title": "Dichte", "titleX": -125.4, "titleY": 232.5, "titleBaseline": "alphabetic", "titleAngle": 270, "titleAlign": "center"}},
      "y2": {"datum": 0}
     }},
    {"data": {"name": "curves"}, "transform": [{"filter": "datum.v == 'df' && datum.tree == 'Baum 1' && datum.kind == 'kern'"}],
     "mark": {"type": "line", "color": "#E41A1C", "strokeWidth": 3.5, "clip": true},
     "encoding": {"x": {"field": "x", "type": "quantitative", "axis": {"orient": "top", "values": [15, 20, 25, 30, 35], "labels": false, "title": null}},
                  "y": {"field": "y", "type": "quantitative", "axis": null}}},
    {"data": {"name": "curves"}, "transform": [{"filter": "datum.v == 'df' && datum.tree == 'Baum 1' && datum.kind == 'norm'"}],
     "mark": {"type": "line", "color": "#377EB8", "strokeWidth": 3.5, "strokeDash": [12, 8], "clip": true},
     "encoding": {"x": {"field": "x", "type": "quantitative", "axis": null},
                  "y": {"field": "y", "type": "quantitative", "axis": null}}},
    {"data": {"values": [{}]}, "mark": {"type": "rule", "color": "black", "strokeWidth": 1.3},
     "encoding": {"y": {"datum": 0.135, "axis": null}}},
    {"data": {"values": [{}]}, "mark": {"type": "text", "font": "Liberation Serif", "fontSize": 48, "baseline": "middle", "color": "black"},
     "encoding": {"y": {"datum": 0.1431, "axis": null}, "text": {"value": "Baum 1"}}}
   ],
   "resolve": {"axis": {"x": "independent", "y": "independent"}}
  },
  {"width": 440, "height": 420,
   "layer": [
    {"data": {"name": "bars"}, "transform": [{"filter": "datum.v == 'df' && datum.tree == 'Baum 2'"}],
     "mark": {"type": "rect", "fill": "#4DAF4A", "stroke": "black", "strokeWidth": 1},
     "encoding": {
      "x": {"field": "lo", "type": "quantitative", "scale": {"domain": [10.78, 39.23], "nice": false, "zero": false},
            "axis": {"orient": "bottom", "values": [15, 20, 25, 30, 35], "labels": false, "title": null}},
      "x2": {"field": "hi"},
      "y": {"field": "dens", "type": "quantitative", "scale": {"domain": [0, 0.1512], "nice": false, "zero": false},
            "axis": {"orient": "right", "values": [0, 0.02, 0.04, 0.06, 0.08, 0.1, 0.12], "labels": false, "title": null}},
      "y2": {"datum": 0}
     }},
    {"data": {"name": "curves"}, "transform": [{"filter": "datum.v == 'df' && datum.tree == 'Baum 2' && datum.kind == 'kern'"}],
     "mark": {"type": "line", "color": "#E41A1C", "strokeWidth": 3.5, "clip": true},
     "encoding": {"x": {"field": "x", "type": "quantitative", "axis": {"orient": "top", "values": [15, 20, 25, 30, 35], "format": "d", "title": null}},
                  "y": {"field": "y", "type": "quantitative", "axis": null}}},
    {"data": {"name": "curves"}, "transform": [{"filter": "datum.v == 'df' && datum.tree == 'Baum 2' && datum.kind == 'norm'"}],
     "mark": {"type": "line", "color": "#377EB8", "strokeWidth": 3.5, "strokeDash": [12, 8], "clip": true},
     "encoding": {"x": {"field": "x", "type": "quantitative", "axis": null},
                  "y": {"field": "y", "type": "quantitative", "axis": null}}},
    {"data": {"values": [{}]}, "mark": {"type": "rule", "color": "black", "strokeWidth": 1.3},
     "encoding": {"y": {"datum": 0.135, "axis": null}}},
    {"data": {"values": [{}]}, "mark": {"type": "text", "font": "Liberation Serif", "fontSize": 48, "baseline": "middle", "color": "black"},
     "encoding": {"y": {"datum": 0.1431, "axis": null}, "text": {"value": "Baum 2"}}}
   ],
   "resolve": {"axis": {"x": "independent", "y": "independent"}}
  }
 ], "spacing": 0, "bounds": "flush"},
 {"hconcat": [
  {"width": 55, "height": 420, "view": {"stroke": null}, "data": {"values": [{}]}, "mark": {"type": "text", "text": ""}, "encoding": {}},
  {"width": 418, "height": 420,
   "layer": [
    {"data": {"name": "bars"}, "transform": [{"filter": "datum.v == 'em' && datum.tree == 'Baum 1'"}],
     "mark": {"type": "rect", "fill": "#4DAF4A", "stroke": "black", "strokeWidth": 1},
     "encoding": {
      "x": {"field": "lo", "type": "quantitative", "scale": {"domain": [1380, 17270], "nice": false, "zero": false},
            "axis": {"orient": "bottom", "values": [5000, 10000, 15000], "format": "d", "title": "Elastizitätsmodul, N mm⁻²", "titleX": 468, "titleY": 124.7, "titleBaseline": "alphabetic", "titleAlign": "center"}},
      "x2": {"field": "hi"},
      "y": {"field": "dens", "type": "quantitative", "scale": {"domain": [-0.0000181, 0.0003077], "nice": false, "zero": false},
            "axis": {"orient": "left", "values": [0, 0.00005, 0.0001, 0.00015, 0.0002, 0.00025], "format": ".5f", "title": "Dichte", "titleX": -170.4, "titleY": 232.5, "titleBaseline": "alphabetic", "titleAngle": 270, "titleAlign": "center"}},
      "y2": {"datum": 0}
     }},
    {"data": {"name": "curves"}, "transform": [{"filter": "datum.v == 'em' && datum.tree == 'Baum 1' && datum.kind == 'kern'"}],
     "mark": {"type": "line", "color": "#E41A1C", "strokeWidth": 3.5, "clip": true},
     "encoding": {"x": {"field": "x", "type": "quantitative", "axis": {"orient": "top", "values": [5000, 10000, 15000], "labels": false, "title": null}},
                  "y": {"field": "y", "type": "quantitative", "axis": null}}},
    {"data": {"name": "curves"}, "transform": [{"filter": "datum.v == 'em' && datum.tree == 'Baum 1' && datum.kind == 'norm'"}],
     "mark": {"type": "line", "color": "#377EB8", "strokeWidth": 3.5, "strokeDash": [12, 8], "clip": true},
     "encoding": {"x": {"field": "x", "type": "quantitative", "axis": null},
                  "y": {"field": "y", "type": "quantitative", "axis": null}}},
    {"data": {"values": [{}]}, "mark": {"type": "rule", "color": "black", "strokeWidth": 1.3},
     "encoding": {"y": {"datum": 0.0002728, "axis": null}}},
    {"data": {"values": [{}]}, "mark": {"type": "text", "font": "Liberation Serif", "fontSize": 48, "baseline": "middle", "color": "black"},
     "encoding": {"y": {"datum": 0.0002903, "axis": null}, "text": {"value": "Baum 1"}}}
   ],
   "resolve": {"axis": {"x": "independent", "y": "independent"}}
  },
  {"width": 418, "height": 420,
   "layer": [
    {"data": {"name": "bars"}, "transform": [{"filter": "datum.v == 'em' && datum.tree == 'Baum 2'"}],
     "mark": {"type": "rect", "fill": "#4DAF4A", "stroke": "black", "strokeWidth": 1},
     "encoding": {
      "x": {"field": "lo", "type": "quantitative", "scale": {"domain": [1380, 17270], "nice": false, "zero": false},
            "axis": {"orient": "bottom", "values": [5000, 10000, 15000], "labels": false, "title": null}},
      "x2": {"field": "hi"},
      "y": {"field": "dens", "type": "quantitative", "scale": {"domain": [-0.0000181, 0.0003077], "nice": false, "zero": false},
            "axis": {"orient": "right", "values": [0, 0.00005, 0.0001, 0.00015, 0.0002, 0.00025], "labels": false, "title": null}},
      "y2": {"datum": 0}
     }},
    {"data": {"name": "curves"}, "transform": [{"filter": "datum.v == 'em' && datum.tree == 'Baum 2' && datum.kind == 'kern'"}],
     "mark": {"type": "line", "color": "#E41A1C", "strokeWidth": 3.5, "clip": true},
     "encoding": {"x": {"field": "x", "type": "quantitative", "axis": {"orient": "top", "values": [5000, 10000, 15000], "format": "d", "title": null}},
                  "y": {"field": "y", "type": "quantitative", "axis": null}}},
    {"data": {"name": "curves"}, "transform": [{"filter": "datum.v == 'em' && datum.tree == 'Baum 2' && datum.kind == 'norm'"}],
     "mark": {"type": "line", "color": "#377EB8", "strokeWidth": 3.5, "strokeDash": [12, 8], "clip": true},
     "encoding": {"x": {"field": "x", "type": "quantitative", "axis": null},
                  "y": {"field": "y", "type": "quantitative", "axis": null}}},
    {"data": {"values": [{}]}, "mark": {"type": "rule", "color": "black", "strokeWidth": 1.3},
     "encoding": {"y": {"datum": 0.0002728, "axis": null}}},
    {"data": {"values": [{}]}, "mark": {"type": "text", "font": "Liberation Serif", "fontSize": 48, "baseline": "middle", "color": "black"},
     "encoding": {"y": {"datum": 0.0002903, "axis": null}, "text": {"value": "Baum 2"}}}
   ],
   "resolve": {"axis": {"x": "independent", "y": "independent"}}
  }
 ], "spacing": 0, "bounds": "flush"}
]
}
